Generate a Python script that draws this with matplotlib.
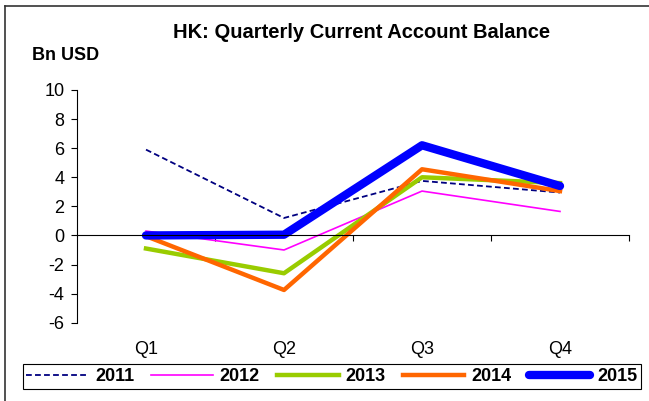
import numpy as np
import matplotlib
matplotlib.use("Agg")
import matplotlib.pyplot as plt
from matplotlib.lines import Line2D

plt.rcParams['font.family'] = ['Liberation Sans', 'DejaVu Sans']
plt.rcParams['axes.unicode_minus'] = False

# quarterly current account balance, bn USD
quarters = ['Q1', 'Q2', 'Q3', 'Q4']
ca_2011 = [5.9, 1.2, 3.75, 2.95]
ca_2012 = [0.3, -1.0, 3.05, 1.65]
ca_2013 = [-0.9, -2.6, 4.0, 3.6]
ca_2014 = [-0.05, -3.75, 4.55, 3.05]
ca_2015 = [0.0, 0.05, 6.2, 3.4]

x = np.arange(len(quarters))

fig = plt.figure(figsize=(6.49, 4.01), dpi=100)
ax = fig.add_axes([77/649, (401-322.7)/401, (629-77)/649, (322.7-90)/401])

ax.plot(x, ca_2011, color='#000080', lw=1.3, dashes=(3.2, 1.8), label='2011')
ax.plot(x, ca_2012, color='#FF00FF', lw=1.2, label='2012')
ax.plot(x, ca_2013, color='#99CC00', lw=3.2, label='2013')
ax.plot(x, ca_2014, color='#FF6600', lw=3.2, label='2014')
ax.plot(x, ca_2015, color='#0000FF', lw=6, solid_capstyle='round', label='2015')

ax.set_xlim(-0.5, 3.5)
ax.set_ylim(-6, 10)
ax.set_yticks(np.arange(-6, 11, 2))
ax.tick_params(axis='y', direction='out', length=4, width=0.8, labelsize=13, pad=5)

# category axis crosses at zero, ticks between categories
ax.spines['bottom'].set_position(('data', 0))
ax.spines['top'].set_visible(False)
ax.spines['right'].set_visible(False)
ax.spines['left'].set_linewidth(0.8)
ax.spines['bottom'].set_linewidth(0.8)
ax.set_xticks(x + 0.5)
ax.set_xticklabels([])
ax.tick_params(axis='x', direction='out', length=4, width=0.8)

sec = ax.secondary_xaxis('bottom')
sec.set_xticks(x)
sec.set_xticklabels(quarters)
sec.tick_params(length=0, labelsize=13, pad=13)
sec.spines['bottom'].set_visible(False)

fig.text(362/649, 1 - 33/401, 'HK: Quarterly Current Account Balance',
         ha='center', va='center', fontsize=14.5, fontweight='bold')
fig.text(32/649, 1 - 55/401, 'Bn USD', ha='left', va='center',
         fontsize=13, fontweight='bold')

leg = fig.legend(loc='center', bbox_to_anchor=(332/649, 1 - 376.5/401), ncol=5,
                 frameon=True, fancybox=False, edgecolor='black', framealpha=1,
                 prop={'weight': 'bold', 'size': 13}, handlelength=3.4,
                 handletextpad=0.4, columnspacing=0.95, borderpad=0.2)
leg.get_frame().set_linewidth(0.8)

# outer chart border
fig.add_artist(Line2D([4.5/649, 4.5/649], [0, 1 - 6/401], color='#333333', lw=1.2))
fig.add_artist(Line2D([4.5/649, 1], [1 - 6/401, 1 - 6/401], color='#333333', lw=1.2))

fig.savefig('out.png', dpi=100)
